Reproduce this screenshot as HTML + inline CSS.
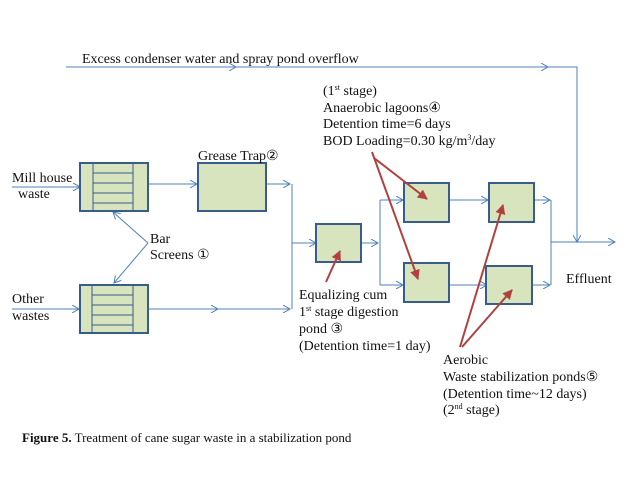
<!DOCTYPE html>
<html><head><style>
body{margin:0;background:#fff}
svg text{font-family:"Liberation Serif",serif;font-size:14px;fill:#111}
</style></head><body>
<svg width="638" height="479" viewBox="0 0 638 479" xmlns="http://www.w3.org/2000/svg">
<defs>
<marker id="a" markerWidth="8" markerHeight="8" refX="7" refY="4" orient="auto" markerUnits="userSpaceOnUse"><path d="M0,0 L7,4 L0,8" fill="none" stroke="#4f81bd" stroke-width="1"/></marker>
<marker id="r" markerWidth="10" markerHeight="10" refX="9" refY="5" orient="auto" markerUnits="userSpaceOnUse"><path d="M0,0 L10,5 L0,10 z" fill="#b0413e"/></marker>
</defs>
<g stroke="#4f81bd" stroke-width="1" fill="none">
<path d="M66,67 L236,67" marker-end="url(#a)"/>
<path d="M236,67 L548,67" marker-end="url(#a)"/>
<path d="M548,67 L577,67 L577,242" marker-end="url(#a)"/>
<path d="M12,187 L80,187" marker-end="url(#a)"/>
<path d="M12,309 L79,309" marker-end="url(#a)"/>
<path d="M148,184 L197,184" marker-end="url(#a)"/>
<path d="M266,184 L290,184" marker-end="url(#a)"/>
<path d="M148,309 L218,309" marker-end="url(#a)"/>
<path d="M218,309 L290,309" marker-end="url(#a)"/>
<path d="M292,184 L292,309"/>
<path d="M292,243 L316,243" marker-end="url(#a)"/>
<path d="M361,243 L378,243" marker-end="url(#a)"/>
<path d="M380,200 L380,285"/>
<path d="M380,200 L403,200" marker-end="url(#a)"/>
<path d="M380,285 L403,285" marker-end="url(#a)"/>
<path d="M449,200 L488,200" marker-end="url(#a)"/>
<path d="M449,285 L487,285" marker-end="url(#a)"/>
<path d="M534,200 L550,200" marker-end="url(#a)"/>
<path d="M532,285 L550,285" marker-end="url(#a)"/>
<path d="M551,200 L551,285"/>
<path d="M551,242 L615,242" marker-end="url(#a)"/>
<path d="M148,243 L113,212" marker-end="url(#a)"/>
<path d="M148,243 L114,283" marker-end="url(#a)"/>
</g>
<g fill="#d7e4bd" stroke="#385d8a" stroke-width="2">
<rect x="80" y="163" width="68" height="48"/>
<rect x="80" y="285" width="68" height="48"/>
<rect x="198" y="163" width="68" height="48"/>
<rect x="316" y="224" width="45" height="38"/>
<rect x="404" y="183" width="45" height="39"/>
<rect x="404" y="263" width="45" height="39"/>
<rect x="489" y="183" width="45" height="39"/>
<rect x="486" y="266" width="46" height="38"/>
</g>
<g stroke="#385d8a" stroke-width="1">
<path d="M93,163V211M133,163V211M93,173H133M93,183H133M93,193H133M93,203H133"/>
<path d="M92,285V333M133,285V333M92,295H133M92,305H133M92,315H133M92,325H133"/>
</g>
<g stroke="#b0413e" stroke-width="2" fill="none">
<path d="M374,158 L427,199" marker-end="url(#r)"/>
<path d="M372,152 L418,279" marker-end="url(#r)"/>
<path d="M326,282 L340,251" marker-end="url(#r)"/>
<path d="M460,347 L503,205" marker-end="url(#r)"/>
<path d="M462,347 L512,290" marker-end="url(#r)"/>
</g>
<text x="82" y="63">Excess condenser water and spray pond overflow</text>
<text x="323" y="95">(1<tspan font-size="8" dy="-5">st</tspan><tspan dy="5"> stage)</tspan></text>
<text x="323" y="112">Anaerobic lagoons④</text>
<text x="323" y="128">Detention time=6 days</text>
<text x="323" y="145">BOD Loading=0.30 kg/m<tspan font-size="8" dy="-5">3</tspan><tspan dy="5">/day</tspan></text>
<text x="198" y="160">Grease Trap②</text>
<text x="12" y="182">Mill house</text>
<text x="18" y="198">waste</text>
<text x="150" y="243">Bar</text>
<text x="150" y="259">Screens ①</text>
<text x="12" y="303">Other</text>
<text x="12" y="320">wastes</text>
<text x="566" y="283">Effluent</text>
<text x="299" y="299">Equalizing cum</text>
<text x="299" y="316">1<tspan font-size="8" dy="-5">st</tspan><tspan dy="5"> stage digestion</tspan></text>
<text x="299" y="333">pond ③</text>
<text x="299" y="350">(Detention time=1  day)</text>
<text x="443" y="364">Aerobic</text>
<text x="443" y="381">Waste stabilization ponds⑤</text>
<text x="443" y="398">(Detention time~12 days)</text>
<text x="443" y="414">(2<tspan font-size="8" dy="-5">nd</tspan><tspan dy="5"> stage)</tspan></text>
<text x="22" y="442" style="font-size:13px"><tspan font-weight="bold">Figure 5.</tspan> Treatment of cane sugar waste in a stabilization pond</text>
</svg>
</body></html>
